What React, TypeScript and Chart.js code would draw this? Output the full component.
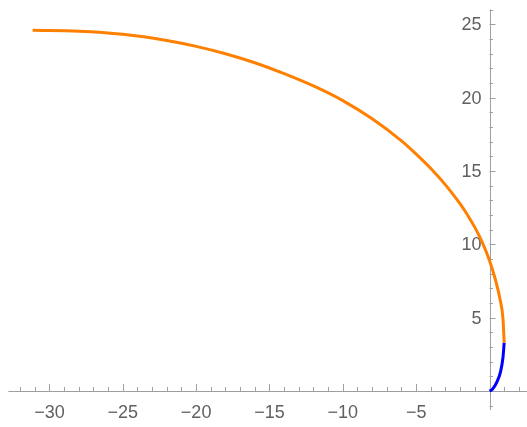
import React, { useEffect, useRef } from "react";
import { Chart, registerables } from "chart.js";

Chart.register(...registerables);

// Orange arc (x, y)
const orangeX = [-31.15, -28, -25, -22, -20, -18, -16, -14, -12, -10, -8, -6, -5, -4, -3, -2, -1.5, -1, -0.5, 0, 0.4, 0.73, 0.92, 1.0];
const orangeY = [24.58, 24.52, 24.31, 23.89, 23.49, 22.99, 22.37, 21.63, 20.79, 19.79, 18.55, 17.05, 16.15, 15.17, 14.05, 12.75, 12.0, 11.15, 10.15, 8.9, 7.6, 6.2, 4.9, 3.3];

// Blue segment near the origin
const blueX = [0, 0.2, 0.5, 0.75, 0.92, 1.0];
const blueY = [0, 0.12, 0.6, 1.3, 2.3, 3.3];

// Axis ticks
const xMajorTicks = [-30, -25, -20, -15, -10, -5];
const xMinorTicks = [-32, -31, -29, -28, -27, -26, -24, -23, -22, -21, -19, -18, -17, -16, -14, -13, -12, -11, -9, -8, -7, -6, -4, -3, -2, -1, 1, 2];
const yMajorTicks = [5, 10, 15, 20, 25];
const yMinorTicks = [-1, 1, 2, 3, 4, 6, 7, 8, 9, 11, 12, 13, 14, 16, 17, 18, 19, 21, 22, 23, 24, 26];

const fmt = (v: number) => (v < 0 ? "\u2212" + Math.abs(v) : String(v));

const axesPlugin = {
  id: "mmaAxes",
  beforeDatasetsDraw(chart: any) {
    const ctx = chart.ctx;
    const xs = chart.scales.x;
    const ys = chart.scales.y;
    const x0 = xs.getPixelForValue(0);
    const y0 = ys.getPixelForValue(0);
    ctx.save();
    ctx.strokeStyle = "#a0a0a0";
    ctx.lineWidth = 1;
    // x axis line
    ctx.beginPath();
    ctx.moveTo(xs.getPixelForValue(-32.8), Math.round(y0) + 0.5);
    ctx.lineTo(xs.getPixelForValue(2.6), Math.round(y0) + 0.5);
    ctx.stroke();
    // y axis line
    ctx.beginPath();
    ctx.moveTo(Math.round(x0) + 0.5, ys.getPixelForValue(-1.3));
    ctx.lineTo(Math.round(x0) + 0.5, ys.getPixelForValue(26.0));
    ctx.stroke();
    // x ticks (upward)
    ctx.beginPath();
    xMajorTicks.forEach((v) => {
      const px = Math.round(xs.getPixelForValue(v)) + 0.5;
      ctx.moveTo(px, y0);
      ctx.lineTo(px, y0 - 7);
    });
    xMinorTicks.forEach((v) => {
      const px = Math.round(xs.getPixelForValue(v)) + 0.5;
      ctx.moveTo(px, y0);
      ctx.lineTo(px, y0 - 4);
    });
    // y ticks (rightward)
    yMajorTicks.forEach((v) => {
      const py = Math.round(ys.getPixelForValue(v)) + 0.5;
      ctx.moveTo(x0, py);
      ctx.lineTo(x0 + 6, py);
    });
    yMinorTicks.forEach((v) => {
      const py = Math.round(ys.getPixelForValue(v)) + 0.5;
      ctx.moveTo(x0, py);
      ctx.lineTo(x0 + 3.5, py);
    });
    ctx.stroke();
    // labels
    ctx.fillStyle = "#606060";
    ctx.font = "18px 'Liberation Sans', Arial, sans-serif";
    ctx.textAlign = "center";
    ctx.textBaseline = "middle";
    xMajorTicks.forEach((v) => {
      ctx.fillText(fmt(v), xs.getPixelForValue(v), y0 + 22);
    });
    ctx.textAlign = "right";
    yMajorTicks.forEach((v) => {
      ctx.fillText(fmt(v), x0 - 8, ys.getPixelForValue(v) + 1);
    });
    ctx.restore();
  },
};

export default function App() {
  const ref = useRef<HTMLCanvasElement | null>(null);
  useEffect(() => {
    if (!ref.current) return;
    const chart = new Chart(ref.current, {
      type: "scatter",
      data: {
        datasets: [
          {
            data: orangeX.map((x, i) => ({ x, y: orangeY[i] })),
            showLine: true,
            borderColor: "#ff8000",
            borderWidth: 3,
            pointRadius: 0,
            cubicInterpolationMode: "monotone",
            fill: false,
          },
          {
            data: blueX.map((x, i) => ({ x, y: blueY[i] })),
            showLine: true,
            borderColor: "#0000ff",
            borderWidth: 3,
            pointRadius: 0,
            cubicInterpolationMode: "monotone",
            fill: false,
          },
        ],
      },
      options: {
        animation: false,
        responsive: false,
        maintainAspectRatio: false,
        layout: { padding: 0 },
        plugins: { legend: { display: false }, tooltip: { enabled: false } },
        scales: {
          x: { type: "linear", display: false, min: -33.37, max: 2.556 },
          y: { type: "linear", display: false, min: -2.454, max: 26.65 },
        },
      },
      plugins: [axesPlugin],
    });
    return () => chart.destroy();
  }, []);
  return (
    <div style={{ position: "fixed", left: 0, top: 0, width: 527, height: 427, background: "#fff" }}>
      <canvas ref={ref} width={527} height={427} style={{ display: "block", width: 527, height: 427 }} />
    </div>
  );
}
